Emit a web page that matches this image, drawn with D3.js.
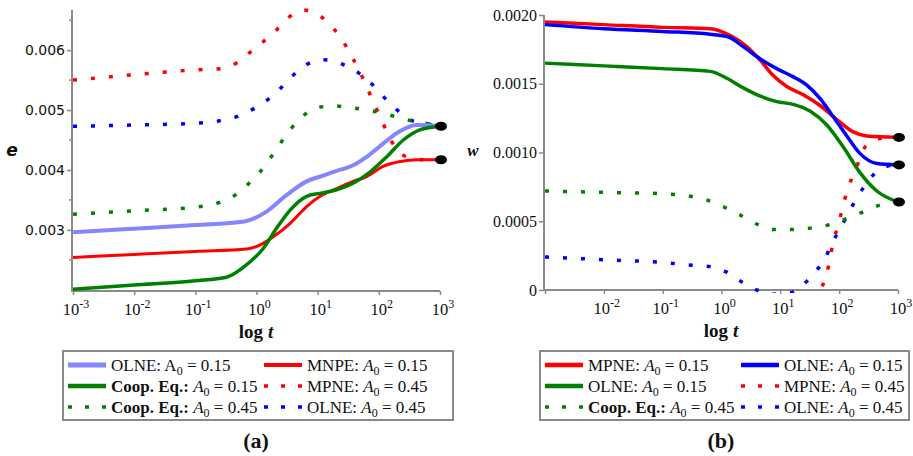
<!DOCTYPE html>
<html lang="en">
<head>
<meta charset="UTF-8">
<title>e and w against log t</title>
<script src="https://d3js.org/d3.v7.min.js"></script>
<style>
    body { margin: 0; background: #fff; }
</style>
</head>
<body>
<script>
    // points are [log10 t, value]
    const tDecades = [-3, -2, -1, 0, 1, 2, 3]
    const eTicks = [0.003, 0.004, 0.005, 0.006]
    const eMinorTicks = [0.0025, 0.0035, 0.0045, 0.0055, 0.0065]
    const wTicks = [0, 0.0005, 0.0010, 0.0015, 0.0020]

    // panel (a): e
    const eOlne015 = [[-3, 0.00296], [-2, 0.00302], [-1, 0.00308], [-0.2, 0.00314], [0.17, 0.00331], [0.49, 0.00358], [0.82, 0.00381], [1.04, 0.00389], [1.26, 0.00397], [1.58, 0.00408], [1.8, 0.00422], [2.07, 0.00444], [2.35, 0.00465], [2.62, 0.00475], [3, 0.00474]]
    const eMnpe015 = [[-3, 0.00254], [-2, 0.00259], [-1, 0.00264], [-0.16, 0.00268], [0.06, 0.00275], [0.28, 0.00289], [0.55, 0.00311], [0.82, 0.00339], [1.04, 0.00356], [1.31, 0.00369], [1.58, 0.00381], [1.8, 0.00389], [2.07, 0.00406], [2.35, 0.00414], [2.62, 0.00417], [3, 0.00417]]
    const eCoop015 = [[-3, 0.00201], [-2, 0.00208], [-1, 0.00215], [-0.49, 0.00221], [-0.16, 0.00242], [0.11, 0.00269], [0.33, 0.00303], [0.55, 0.00333], [0.82, 0.00356], [1.04, 0.00361], [1.31, 0.00367], [1.58, 0.00378], [1.86, 0.00397], [2.13, 0.00422], [2.4, 0.0045], [2.67, 0.00467], [3, 0.00473]]
    const eMpne045 = [[-3, 0.0055], [-2, 0.00559], [-1, 0.00567], [-0.6, 0.00569], [-0.32, 0.00579], [-0.11, 0.00596], [0.11, 0.00614], [0.33, 0.00634], [0.52, 0.00654], [0.77, 0.00667], [1.04, 0.00657], [1.26, 0.00636], [1.42, 0.00614], [1.56, 0.00589], [1.69, 0.00564], [1.8, 0.00539], [1.91, 0.00514], [2.02, 0.00489], [2.13, 0.00464], [2.26, 0.00439], [2.48, 0.00421], [2.75, 0.00417], [3, 0.00417]]
    const eOlne045 = [[-3, 0.00473], [-2, 0.00475], [-1, 0.00478], [-0.6, 0.00482], [-0.3, 0.0049], [-0.05, 0.00502], [0.19, 0.00518], [0.41, 0.00538], [0.6, 0.00558], [0.82, 0.00576], [1.09, 0.00584], [1.37, 0.00578], [1.64, 0.00564], [1.86, 0.00546], [2.05, 0.00525], [2.24, 0.00506], [2.46, 0.00486], [2.73, 0.00478], [3, 0.00474]]
    const eCoop045 = [[-3, 0.00326], [-2, 0.00332], [-1, 0.00338], [-0.6, 0.00346], [-0.35, 0.00358], [-0.13, 0.00377], [0.06, 0.00397], [0.22, 0.00419], [0.38, 0.00443], [0.55, 0.00467], [0.74, 0.00488], [0.96, 0.00503], [1.26, 0.00507], [1.53, 0.00504], [1.83, 0.005], [2.13, 0.00493], [2.4, 0.00485], [2.7, 0.00479], [3, 0.00474]]
    const eEndpoints = [0.00473, 0.00417]

    // panel (b): w
    const wMpne015 = [[-3, 0.00195], [-2, 0.00193], [-1, 0.00191], [-0.19, 0.0019], [0.15, 0.00185], [0.43, 0.00177], [0.66, 0.00167], [0.88, 0.00156], [1.11, 0.00148], [1.39, 0.00142], [1.68, 0.00134], [1.96, 0.00124], [2.24, 0.00115], [2.47, 0.00112], [3, 0.00111]]
    const wOlne015b = [[-3, 0.00193], [-2, 0.0019], [-1, 0.00188], [-0.19, 0.00186], [0.12, 0.00184], [0.37, 0.00177], [0.66, 0.00168], [0.94, 0.00161], [1.22, 0.00155], [1.45, 0.00149], [1.68, 0.00139], [1.9, 0.00126], [2.13, 0.00112], [2.36, 0.00099], [2.64, 0.00092], [3, 0.00091]]
    const wOlne015g = [[-3, 0.00165], [-2, 0.00163], [-1, 0.00161], [-0.19, 0.00159], [0.09, 0.00154], [0.37, 0.00147], [0.66, 0.00141], [0.94, 0.00137], [1.22, 0.00135], [1.51, 0.0013], [1.79, 0.0012], [2.07, 0.00104], [2.36, 0.00085], [2.64, 0.00072], [3, 0.00064]]
    const wCoop045 = [[-3, 0.00072], [-2, 0.00071], [-1, 0.0007], [-0.51, 0.00068], [-0.22, 0.00065], [0.06, 0.0006], [0.34, 0.00054], [0.6, 0.00048], [0.88, 0.00044], [1.19, 0.00044], [1.51, 0.00045], [1.79, 0.00047], [2.07, 0.00051], [2.36, 0.00056], [2.64, 0.00061], [3, 0.00065]]
    const wOlne045 = [[-3, 0.00024], [-2, 0.00022], [-1, 0.0002], [-0.51, 0.00018], [-0.19, 0.00017], [0.09, 0.00013], [0.34, 0.00006], [0.6, 0.0], [0.9, -0.00003], [1.17, -0.00002], [1.39, 0.00004], [1.59, 0.00013], [1.76, 0.00023], [1.88, 0.00034], [2.02, 0.00045], [2.16, 0.00056], [2.3, 0.00067], [2.44, 0.00076], [2.61, 0.00085], [2.81, 0.0009], [3, 0.00091]]
    const wMpne045 = [[1.62, -0.0001], [1.7, 0.00001], [1.79, 0.00012], [1.85, 0.00024], [1.9, 0.00036], [1.99, 0.00047], [2.05, 0.00059], [2.13, 0.00071], [2.22, 0.00082], [2.33, 0.00093], [2.44, 0.00104], [2.67, 0.0011], [3, 0.00111]]
    const wEndpoints = [0.00111, 0.00091, 0.00064]

    const RED = '#ff0000', BLUE = '#0000ff', GREEN = '#008000', LIGHT = '#8585ff'
    const AXIS = '#8a8a8a'
    const SERIF = '"Liberation Serif", "Times New Roman", serif'
    const SANS = '"DejaVu Sans", Verdana, sans-serif'
    const DOTS = '4,14'

    const svg = d3.select('body').append('svg')
        .attr('width', 913)
        .attr('height', 456)

    function drawPanel(p) {
        const g = svg.append('g')
        const x = d3.scaleLog().domain([1e-3, 1e3]).range(p.xRange)
        const y = d3.scaleLinear().domain(p.yDomain).range(p.yRange)

        g.append('clipPath').attr('id', p.id + 'clip')
            .append('rect')
            .attr('x', p.yAxisX).attr('y', 0)
            .attr('width', p.xRange[1] - p.yAxisX + 20)
            .attr('height', p.yRange[0] + 3)

        // y axis
        const yAxis = d3.axisLeft(y).tickValues(p.yTicks).tickSizeInner(5).tickSizeOuter(0)
            .tickFormat(p.yFormat)
        const ya = g.append('g').attr('transform', 'translate(' + p.yAxisX + ',0)').call(yAxis)
        ya.select('.domain').attr('stroke', AXIS).attr('stroke-width', 2)
            .attr('d', 'M0,' + p.yRange[0] + 'V' + p.yTop)
        ya.selectAll('.tick line').attr('stroke', AXIS).attr('stroke-width', 1.5)
        ya.selectAll('.tick text').attr('font-family', p.yFont).attr('font-size', p.yFontSize)
            .attr('fill', '#111').attr('x', -7)
        if (p.yMinor) {
            g.append('g').selectAll('line').data(p.yMinor).join('line')
                .attr('x1', p.yAxisX - 3).attr('x2', p.yAxisX)
                .attr('y1', d => y(d)).attr('y2', d => y(d))
                .attr('stroke', AXIS).attr('stroke-width', 1.5)
        }

        // x axis
        const xAxis = d3.axisBottom(x).tickValues(tDecades.map(d => Math.pow(10, d)))
            .tickSizeInner(4).tickSizeOuter(0).tickFormat('')
        const xa = g.append('g').attr('transform', 'translate(0,' + p.yRange[0] + ')').call(xAxis)
        xa.select('.domain').attr('stroke', AXIS).attr('stroke-width', 2)
            .attr('d', 'M' + (p.yAxisX - 1) + ',0H' + p.xRange[1])
        xa.selectAll('.tick line').attr('stroke', AXIS).attr('stroke-width', 1.5)
        const labels = g.append('g').selectAll('text')
            .data(tDecades.filter(d => !(p.skipFirst && d === -3)))
            .join('text')
            .attr('x', d => x(Math.pow(10, d)) + 3)
            .attr('y', p.yRange[0] + 24)
            .attr('text-anchor', 'middle')
            .attr('font-family', SERIF).attr('font-size', 16.5).attr('fill', '#111')
        labels.append('tspan').text('10')
        labels.append('tspan').attr('font-size', 12).attr('dy', -7).text(d => d === 0 ? '0' : String(d))

        // axis titles
        g.append('text').attr('x', p.xTitle).attr('y', p.yRange[0] + 47)
            .attr('text-anchor', 'middle').attr('font-family', SERIF)
            .attr('font-weight', 'bold').attr('font-size', 19).attr('fill', '#111')
            .call(t => {
                t.append('tspan').text('log ')
                t.append('tspan').attr('font-style', 'italic').text('t')
            })
        g.append('text').attr('x', p.yTitleX).attr('y', p.yTitleY)
            .attr('text-anchor', 'middle').attr('font-family', p.yTitleFont)
            .attr('font-weight', 'bold').attr('font-style', 'italic')
            .attr('font-size', 17).attr('fill', '#111').text(p.yTitle)

        // curves
        const line = d3.line()
            .x(d => x(Math.pow(10, d[0])))
            .y(d => y(d[1]))
            .curve(d3.curveMonotoneX)
        const curves = g.append('g').attr('clip-path', 'url(#' + p.id + 'clip)')
        p.series.forEach(s => {
            curves.append('path')
                .attr('d', line(s.data))
                .attr('fill', 'none')
                .attr('stroke', s.color)
                .attr('stroke-width', s.dotted ? 3.5 : s.width)
                .attr('stroke-dasharray', s.dotted ? DOTS : null)
        })

        // end points
        g.append('g').selectAll('ellipse').data(p.ends).join('ellipse')
            .attr('cx', x(1e3) + 1).attr('cy', d => y(d))
            .attr('rx', 6).attr('ry', 4.5).attr('fill', '#000')

        // legend
        const lg = g.append('g')
        lg.append('rect')
            .attr('x', p.legend.x).attr('y', 351)
            .attr('width', p.legend.w).attr('height', 69)
            .attr('fill', '#fff').attr('stroke', AXIS).attr('stroke-width', 2)
        p.legend.items.forEach((it, i) => {
            const col = i % 2, row = Math.floor(i / 2)
            const sx = p.legend.cols[col]
            const cy = 365 + row * 21
            lg.append('line')
                .attr('x1', sx).attr('x2', sx + 38)
                .attr('y1', cy).attr('y2', cy)
                .attr('stroke', it.s.color)
                .attr('stroke-width', it.s.dotted ? 3.5 : it.s.width + 1)
                .attr('stroke-dasharray', it.s.dotted ? '4,13' : null)
            const t = lg.append('text')
                .attr('x', sx + 43).attr('y', cy + 6)
                .attr('font-family', SERIF).attr('font-size', 17).attr('fill', '#111')
            t.append('tspan').attr('font-weight', it.bold ? 600 : null).text(it.name)
            t.append('tspan').text(' ')
            t.append('tspan').attr('font-style', it.upright ? null : 'italic').text('A')
            t.append('tspan').attr('font-size', 12).attr('dy', 4).text('0')
            t.append('tspan').attr('dy', -4).text(' = ' + it.a0)
        })

        svg.append('text').attr('x', p.xTitle).attr('y', 448)
            .attr('text-anchor', 'middle').attr('font-family', SERIF)
            .attr('font-weight', 'bold').attr('font-size', 22).attr('fill', '#111')
            .text(p.tag)
    }

    const sA = {
        olne15: {data: eOlne015, color: LIGHT, width: 4},
        mnpe15: {data: eMnpe015, color: RED, width: 3},
        coop15: {data: eCoop015, color: GREEN, width: 3.5},
        mpne45: {data: eMpne045, color: RED, dotted: true},
        olne45: {data: eOlne045, color: BLUE, dotted: true},
        coop45: {data: eCoop045, color: GREEN, dotted: true}
    }
    drawPanel({
        id: 'a', xRange: [73, 440], yDomain: [0.00198, 0.00667], yRange: [291, 10], yTop: 10,
        yAxisX: 72, yTicks: eTicks, yMinor: eMinorTicks, yFormat: d3.format('.3f'),
        yFont: SANS, yFontSize: 14, skipFirst: false,
        xTitle: 256, yTitle: 'e', yTitleX: 12, yTitleY: 156, yTitleFont: SANS, tag: '(a)',
        series: [sA.mpne45, sA.olne45, sA.coop45, sA.olne15, sA.mnpe15, sA.coop15],
        ends: eEndpoints,
        legend: {
            x: 63, w: 390, cols: [68, 264],
            items: [
                {s: sA.olne15, name: 'OLNE:', a0: '0.15', upright: true},
                {s: sA.mnpe15, name: 'MNPE:', a0: '0.15'},
                {s: sA.coop15, name: 'Coop. Eq.:', a0: '0.15', bold: true},
                {s: sA.mpne45, name: 'MPNE:', a0: '0.45'},
                {s: sA.coop45, name: 'Coop. Eq.:', a0: '0.45', bold: true},
                {s: sA.olne45, name: 'OLNE:', a0: '0.45'}
            ]
        }
    })

    const sB = {
        mpne15: {data: wMpne015, color: RED, width: 3.5},
        olne15b: {data: wOlne015b, color: BLUE, width: 3.5},
        olne15g: {data: wOlne015g, color: GREEN, width: 3.5},
        mpne45: {data: wMpne045, color: RED, dotted: true},
        coop45: {data: wCoop045, color: GREEN, dotted: true},
        olne45: {data: wOlne045, color: BLUE, dotted: true}
    }
    drawPanel({
        id: 'b', xRange: [545, 898], yDomain: [0, 0.002], yRange: [290, 15], yTop: 15,
        yAxisX: 544, yTicks: wTicks, yMinor: null,
        yFormat: d => d === 0 ? '0' : d3.format('.4f')(d),
        yFont: SERIF, yFontSize: 16, skipFirst: true,
        xTitle: 721, yTitle: 'w', yTitleX: 473, yTitleY: 156, yTitleFont: SERIF, tag: '(b)',
        series: [sB.mpne45, sB.olne45, sB.coop45, sB.olne15g, sB.mpne15, sB.olne15b],
        ends: wEndpoints,
        legend: {
            x: 540, w: 369, cols: [545, 741],
            items: [
                {s: sB.mpne15, name: 'MPNE:', a0: '0.15'},
                {s: sB.olne15b, name: 'OLNE:', a0: '0.15'},
                {s: sB.olne15g, name: 'OLNE:', a0: '0.15'},
                {s: sB.mpne45, name: 'MPNE:', a0: '0.45'},
                {s: sB.coop45, name: 'Coop. Eq.:', a0: '0.45', bold: true},
                {s: sB.olne45, name: 'OLNE:', a0: '0.45'}
            ]
        }
    })
</script>
</body>
</html>
